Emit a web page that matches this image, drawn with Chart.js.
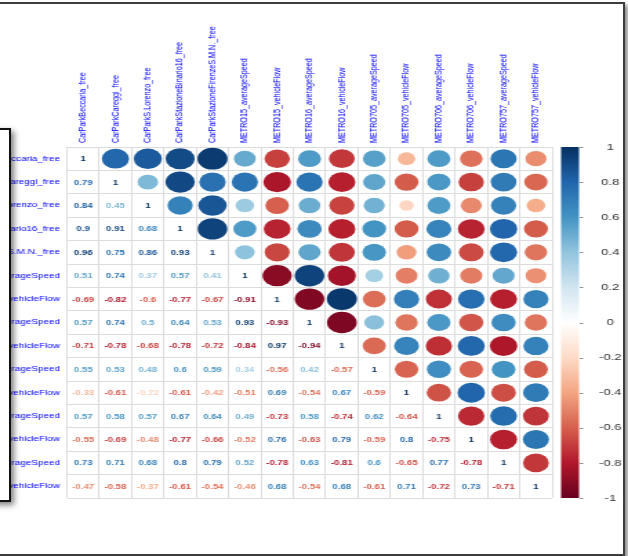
<!DOCTYPE html>
<html>
<head>
<meta charset="utf-8">
<script src="https://cdn.jsdelivr.net/npm/chart.js@4.4.0/dist/chart.umd.min.js"></script>
<style>
  html, body { margin:0; padding:0; background:#fff; overflow:hidden; }
  #wrap { position:relative; width:628px; height:556px; overflow:hidden; }
  /* the original picture is stretched sideways, so the canvas is too */
  #c { position:absolute; left:0; top:0; transform-origin:0 0; transform:scaleX(1.3802); }
  .frame { position:absolute; left:-10px; top:2px; width:631px; height:550px; border:2px solid #3d3d3d; box-shadow:3px 3px 4px rgba(0,0,0,0.45); }
  .side { position:absolute; left:-10px; top:128px; width:17px; height:370px; border:2px solid #111; background:#fff; box-shadow:3px 3px 6px rgba(0,0,0,0.5); }
</style>
</head>
<body>
<div id="wrap">
  <canvas id="c" width="455" height="556"></canvas>
  <div class="frame"></div>
  <div class="side"></div>
</div>
<script>
var names = ['CarParkBeccaria_free', 'CarParkCareggi_free', 'CarParkS.Lorenzo_free',
  'CarParkStazioneBinario16_free', 'CarParkStazioneFirenzeS.M.N._free',
  'METRO15_averageSpeed', 'METRO15_vehicleFlow', 'METRO16_averageSpeed', 'METRO16_vehicleFlow',
  'METRO705_averageSpeed', 'METRO705_vehicleFlow', 'METRO706_averageSpeed', 'METRO706_vehicleFlow',
  'METRO757_averageSpeed', 'METRO757_vehicleFlow'];

// lower triangle, row by row (diagonal is 1)
var lower = [
  [],
  [0.79],
  [0.84, 0.45],
  [0.9, 0.91, 0.68],
  [0.96, 0.75, 0.86, 0.93],
  [0.51, 0.74, 0.37, 0.57, 0.41],
  [-0.69, -0.82, -0.6, -0.77, -0.67, -0.91],
  [0.57, 0.74, 0.5, 0.64, 0.53, 0.93, -0.93],
  [-0.71, -0.78, -0.68, -0.78, -0.72, -0.84, 0.97, -0.94],
  [0.55, 0.53, 0.48, 0.6, 0.59, 0.34, -0.56, 0.42, -0.57],
  [-0.33, -0.61, -0.22, -0.61, -0.42, -0.51, 0.69, -0.54, 0.67, -0.59],
  [0.57, 0.58, 0.57, 0.67, 0.64, 0.49, -0.73, 0.58, -0.74, 0.62, -0.64],
  [-0.55, -0.69, -0.48, -0.77, -0.66, -0.52, 0.76, -0.63, 0.79, -0.59, 0.8, -0.75],
  [0.73, 0.71, 0.68, 0.8, 0.79, 0.52, -0.78, 0.63, -0.81, 0.6, -0.65, 0.77, -0.78],
  [-0.47, -0.58, -0.37, -0.61, -0.54, -0.46, 0.68, -0.54, 0.68, -0.61, 0.71, -0.72, 0.73, -0.71]
];

var colorTicks = [1, 0.8, 0.6, 0.4, 0.2, 0, -0.2, -0.4, -0.6, -0.8, -1];

var palette = ['#67001F', '#B2182B', '#D6604D', '#F4A582', '#FDDBC7', '#FFFFFF',
  '#D1E5F0', '#92C5DE', '#4393C3', '#2166AC', '#053061'];

function hexRgb(h){
  return [parseInt(h.substr(1,2),16), parseInt(h.substr(3,2),16), parseInt(h.substr(5,2),16)];
}
function corrColor(v){
  var p = (v + 1) / 2 * (palette.length - 1);
  var i = Math.min(Math.floor(p), palette.length - 2);
  var f = p - i;
  var a = hexRgb(palette[i]), b = hexRgb(palette[i+1]);
  var c = a.map(function(x, k){ return Math.round(x + (b[k]-x)*f); });
  return 'rgb(' + c.join(',') + ')';
}
function corr(i, j){
  if (i === j) return 1;
  return i > j ? lower[i][j] : lower[j][i];
}

var circles = [], numbers = [];
for (var i = 0; i < names.length; i++) {
  for (var j = 0; j < names.length; j++) {
    var pt = {x: names[j], y: names[i], v: corr(i, j)};
    if (j > i) circles.push(pt); else numbers.push(pt);
  }
}

var labelFont = {family: '"Liberation Sans", Arial, sans-serif', size: 7.2};

// numbers in the lower half
var numberLabels = {
  id: 'numberLabels',
  afterDatasetsDraw: function(chart){
    var ctx = chart.ctx;
    var meta = chart.getDatasetMeta(1);
    ctx.save();
    ctx.font = 'bold 7px "Liberation Sans", Arial, sans-serif';
    ctx.textAlign = 'center';
    ctx.textBaseline = 'middle';
    meta.data.forEach(function(el, k){
      var v = numbers[k].v;
      ctx.fillStyle = corrColor(v);
      ctx.fillText(String(v), el.x, el.y + 0.5);
    });
    ctx.restore();
  }
};

// colour bar next to the right axis
var colorBar = {
  id: 'colorBar',
  afterDraw: function(chart){
    var ctx = chart.ctx;
    var s = chart.scales.cb;
    var top = s.getPixelForValue(1), bot = s.getPixelForValue(-1);
    var x0 = chart.chartArea.right + 6.5, w = 13;
    var g = ctx.createLinearGradient(0, top, 0, bot);
    for (var k = 0; k < palette.length; k++) {
      g.addColorStop(k / (palette.length - 1), palette[palette.length - 1 - k]);
    }
    ctx.save();
    ctx.fillStyle = g;
    ctx.fillRect(x0, top, w, bot - top);
    ctx.strokeStyle = '#666';
    ctx.lineWidth = 0.8;
    colorTicks.forEach(function(t){
      var y = Math.round(s.getPixelForValue(t)) + 0.5;
      ctx.beginPath();
      ctx.moveTo(x0 + w + 0.7, y);
      ctx.lineTo(x0 + w + 3, y);
      ctx.stroke();
    });
    ctx.restore();
  }
};

var chart = new Chart(document.getElementById('c'), {
  type: 'scatter',
  data: {
    datasets: [{
      data: circles,
      pointRadius: function(c){
        var area = c.chart.chartArea;
        var cell = area ? (area.bottom - area.top) / names.length : 23.4;
        return Math.sqrt(Math.abs(c.raw ? c.raw.v : 0)) * 0.475 * cell;
      },
      backgroundColor: function(c){ return corrColor(c.raw ? c.raw.v : 0); },
      borderWidth: 0
    }, {
      data: numbers,
      pointRadius: 0
    }]
  },
  options: {
    responsive: false,
    animation: false,
    events: [],
    layout: {padding: {top: 0, left: 0, right: 0, bottom: 58}},
    plugins: {legend: {display: false}, tooltip: {enabled: false}},
    scales: {
      x: {
        type: 'category',
        position: 'top',
        labels: names,
        offset: true,
        grid: {offset: true, color: '#dcdcdc', lineWidth: 1, drawTicks: false, tickLength: 0},
        border: {display: false},
        ticks: {autoSkip: false, minRotation: 90, maxRotation: 90, padding: 4, labelOffset: 8.6,
          color: 'blue', font: labelFont},
        afterFit: function(s){ s.height = 147; }
      },
      y: {
        type: 'category',
        position: 'left',
        labels: names,
        offset: true,
        grid: {offset: true, color: '#dcdcdc', lineWidth: 1, drawTicks: false, tickLength: 0},
        border: {display: false},
        ticks: {autoSkip: false, padding: 5, color: 'blue', font: labelFont},
        afterFit: function(s){ s.width = 48.5; }
      },
      cb: {
        type: 'linear',
        position: 'right',
        min: -1,
        max: 1,
        afterBuildTicks: function(s){ s.ticks = colorTicks.map(function(v){ return {value: v}; }); },
        grid: {display: false},
        border: {display: false},
        ticks: {
          padding: 26,
          crossAlign: 'center',
          color: '#333',
          font: {family: '"Liberation Sans", Arial, sans-serif', size: 9.5},
          callback: function(v){ return String(Math.round(v * 10) / 10); }
        },
        afterFit: function(s){ s.width = 55; }
      }
    }
  },
  plugins: [numberLabels, colorBar]
});
</script>
</body>
</html>
